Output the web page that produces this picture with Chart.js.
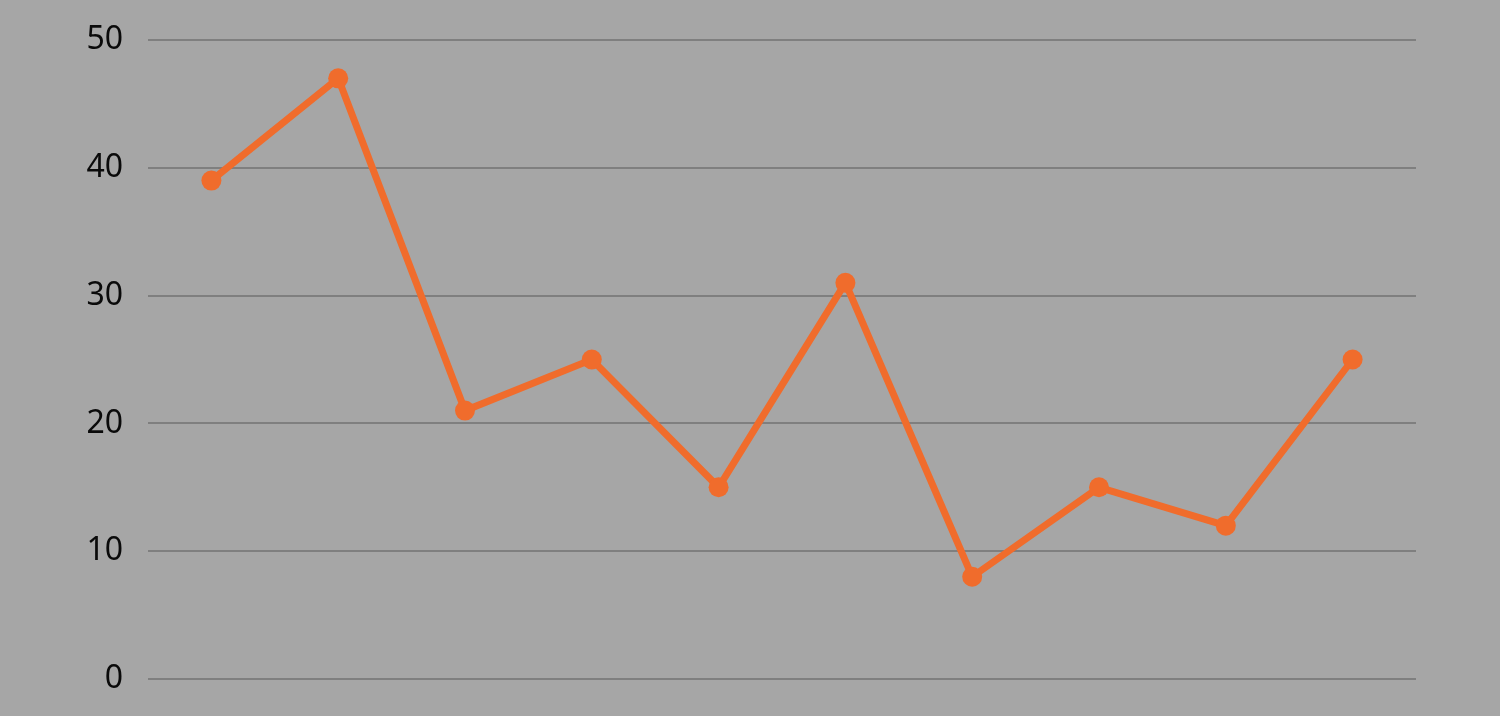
<!DOCTYPE html>
<html>
<head>
<meta charset="utf-8">
<script src="https://cdn.jsdelivr.net/npm/chart.js@4/dist/chart.umd.min.js"></script>
<style>
  html, body { margin: 0; padding: 0; background: #a6a6a6; }
  #wrap { width: 1500px; height: 716px; }
</style>
</head>
<body>
<div id="wrap"><canvas id="line_chart"></canvas></div>
<script>
// values
const categories = ['1', '2', '3', '4', '5', '6', '7', '8', '9', '10'];
const values = [39, 47, 21, 25, 15, 31, 8, 15, 12, 25];
const yTicks = [0, 10, 20, 30, 40, 50];

function chart() {
  var ctx = document.getElementById('line_chart');
  var myChart = new Chart(ctx, {
    type: 'line',
    data: {
      labels: categories,
      datasets: [{
        label: 'Series 1',
        data: values,
        borderColor: '#f06c2c',
        backgroundColor: '#f06c2c',
        borderWidth: 7,
        pointRadius: 10,
        pointBorderWidth: 0,
        tension: 0,
      }]
    },
    options: {
      responsive: true,
      maintainAspectRatio: false,
      animation: false,
      layout: {
        padding: { top: 40, bottom: 37, right: 84, left: 0 }
      },
      plugins: {
        legend: { display: false },
        tooltip: { enabled: false }
      },
      scales: {
        x: {
          display: false,
          offset: true,
        },
        y: {
          min: yTicks[0],
          max: yTicks[yTicks.length - 1],
          afterFit: s => { s.width = 148; },
          border: { display: false },
          grid: {
            color: '#7f7f7f',
            lineWidth: 2,
            drawTicks: false,
          },
          ticks: {
            stepSize: 10,
            padding: 25,
            color: '#0a0a0a',
            font: { family: 'Noto Sans', size: 32, lineHeight: 0.75 }
          }
        }
      }
    }
  });
}
chart();
</script>
</body>
</html>
